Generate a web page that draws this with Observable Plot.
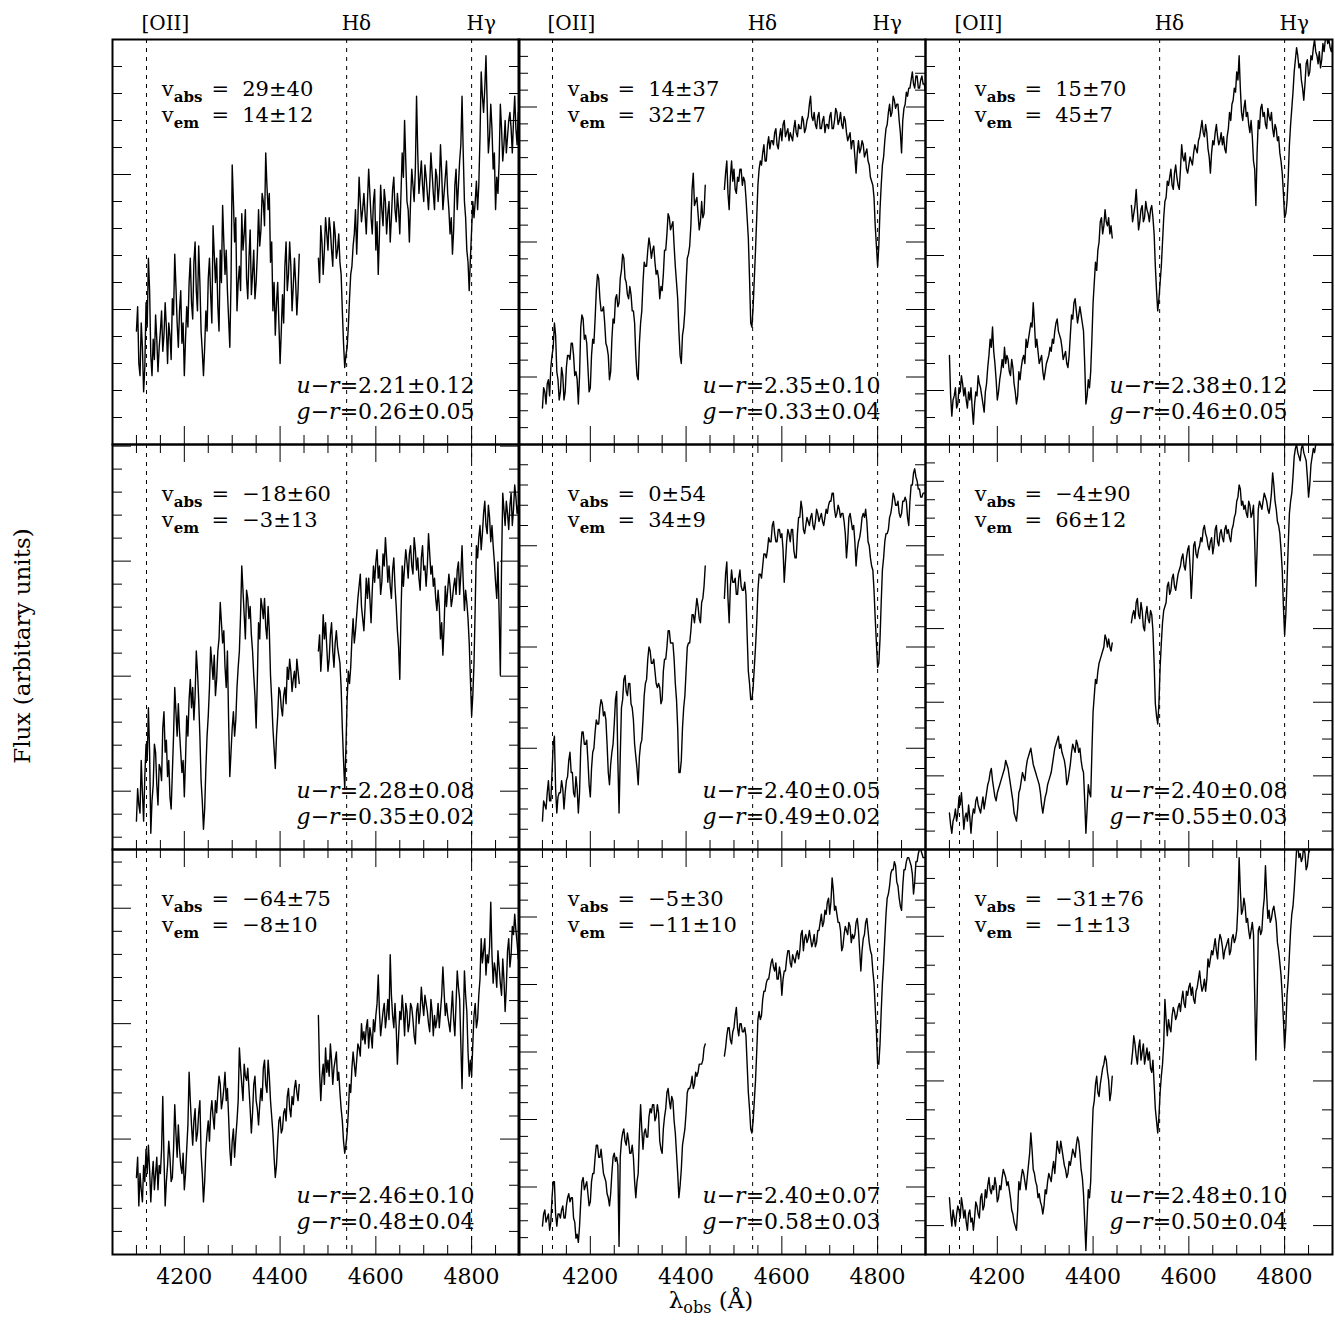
<!DOCTYPE html>
<html><head><meta charset="utf-8">
<script src="https://cdn.jsdelivr.net/npm/d3@7"></script>
<script src="https://cdn.jsdelivr.net/npm/@observablehq/plot@0.6"></script>
<style>
html,body{margin:0;padding:0;background:#fff;}
#fig{position:relative;width:1335px;height:1321px;background:#fff;font-family:"DejaVu Serif",serif;color:#000;}
.panel{position:absolute;width:407px;height:405px;}
.panel svg{overflow:visible;}
#titles{position:absolute;left:0;top:0;pointer-events:none;}
</style></head>
<body><div id="fig"></div>
<script>
// ---------- data ----------
const waveBlue = [4100,4105,4110,4115,4120,4125,4130,4135,4140,4145,
4150,4155,4160,4165,4170,4175,4180,4185,4190,4195,
4200,4205,4210,4215,4220,4225,4230,4235,4240,4245,
4250,4255,4260,4265,4270,4275,4280,4285,4290,4295,
4300,4305,4310,4315,4320,4325,4330,4335,4340,4345,
4350,4355,4360,4365,4370,4375,4380,4385,4390,4395,
4400,4405,4410,4415,4420,4425,4430,4435,4440];
const waveRed = [4480,4485,4490,4495,4500,4505,4510,4515,4520,4525,
4530,4535,4540,4545,4550,4555,4560,4565,4570,4575,
4580,4585,4590,4595,4600,4605,4610,4615,4620,4625,
4630,4635,4640,4645,4650,4655,4660,4665,4670,4675,
4680,4685,4690,4695,4700,4705,4710,4715,4720,4725,
4730,4735,4740,4745,4750,4755,4760,4765,4770,4775,
4780,4785,4790,4795,4800,4805,4810,4815,4820,4825,
4830,4835,4840,4845,4850,4855,4860,4865,4870,4875,
4880,4885,4890,4895,4900];
// intermediate samples
const waveBlueMid = [4102.5,4107.5,4112.5,4117.5,4122.5,4127.5,4132.5,4137.5,4142.5,4147.5,
4152.5,4157.5,4162.5,4167.5,4172.5,4177.5,4182.5,4187.5,4192.5,4197.5,
4202.5,4207.5,4212.5,4217.5,4222.5,4227.5,4232.5,4237.5,4242.5,4247.5,
4252.5,4257.5,4262.5,4267.5,4272.5,4277.5,4282.5,4287.5,4292.5,4297.5,
4302.5,4307.5,4312.5,4317.5,4322.5,4327.5,4332.5,4337.5,4342.5,4347.5,
4352.5,4357.5,4362.5,4367.5,4372.5,4377.5,4382.5,4387.5,4392.5,4397.5,
4402.5,4407.5,4412.5,4417.5,4422.5,4427.5,4432.5,4437.5];
const waveRedMid = [4482.5,4487.5,4492.5,4497.5,4502.5,4507.5,4512.5,4517.5,4522.5,4527.5,
4532.5,4537.5,4542.5,4547.5,4552.5,4557.5,4562.5,4567.5,4572.5,4577.5,
4582.5,4587.5,4592.5,4597.5,4602.5,4607.5,4612.5,4617.5,4622.5,4627.5,
4632.5,4637.5,4642.5,4647.5,4652.5,4657.5,4662.5,4667.5,4672.5,4677.5,
4682.5,4687.5,4692.5,4697.5,4702.5,4707.5,4712.5,4717.5,4722.5,4727.5,
4732.5,4737.5,4742.5,4747.5,4752.5,4757.5,4762.5,4767.5,4772.5,4777.5,
4782.5,4787.5,4792.5,4797.5,4802.5,4807.5,4812.5,4817.5,4822.5,4827.5,
4832.5,4837.5,4842.5,4847.5,4852.5,4857.5,4862.5,4867.5,4872.5,4877.5,
4882.5,4887.5,4892.5,4897.5];

// flux in arbitrary units (0 = panel floor, 100 = panel ceiling)
const blue1 = [28,20,30,13,35,46,22,26,32,18, 28,23,35,20,27,36,47,30,33,25, 17,34,40,35,45,38,49,28,17,33, 41,37,54,40,34,48,59,42,38,24, 69,50,33,44,57,52,41,46,37,48, 40,58,53,60,72,58,45,33,27,40, 20,37,44,38,50,33,46,32,47];
const blue1Mid = [34,17,24,19,29,38,17,21,26,24, 33,27,29,30,21,32,39,24,38,30, 26,29,46,31,50,33,40,23,24,28, 46,30,47,46,28,40,50,48,31,40, 60,56,40,38,48,58,36,53,42,36, 47,49,62,54,64,62,50,40,35,30, 28,30,50,42,44,39,40,38];
const red1 = [46,54,42,56,48,53,44,52,48,45, 33,19,24,36,44,52,47,66,55,62, 52,68,56,60,48,42,64,54,60,57, 50,63,58,62,52,72,80,60,50,68, 60,86,62,70,60,66,58,72,62,68, 60,74,58,66,62,52,47,64,58,70, 86,60,48,38,53,56,65,64,92,82, 96,72,84,68,58,62,84,70,80,76, 82,72,86,74,80];
const red1Mid = [40,50,48,52,56,48,55,46,52,42, 25,22,29,42,49,58,56,60,58,57, 60,62,52,63,55,52,58,63,52,60, 56,66,55,58,62,66,70,58,60,64, 68,72,66,64,69,62,64,67,58,66, 64,67,62,70,58,56,53,68,64,74, 72,56,45,46,60,60,58,76,86,88, 84,76,78,72,66,70,78,74,72,80, 78,80,78,82];

const blue2 = [9,13,15,12,22,30,18,11,19,11, 19,22,25,22,18,10,29,31,27,19, 14,26,31,42,36,33,30,24,16,26, 30,37,35,43,46,40,36,37,33,22, 16,30,40,44,48,49,48,45,43,36, 38,48,52,56,54,49,40,28,20,29, 40,47,54,67,60,57,55,56,64];
const blue2Mid = [14,10,16,19,24,27,16,13,17,13, 22,21,25,17,16,17,32,26,25,13, 22,25,38,41,33,34,25,22,18,31, 36,34,41,47,41,37,39,33,30,17, 25,33,45,44,51,46,49,42,41,39, 42,48,57,53,55,44,36,22,27,33, 46,49,63,59,61,53,60,57];
const red2 = [63,70,58,70,68,62,65,68,66,61, 51,30,34,48,64,70,72,70,74,73, 75,77,74,76,75,80,77,75,76,78, 77,79,78,80,78,81,86,80,79,81, 78,80,77,79,81,78,80,82,80,79, 81,77,76,73,75,67,75,73,74,72, 70,66,64,54,44,58,69,75,79,84, 82,85,84,80,72,83,87,88,90,89, 91,88,90,89,87];
const red2Mid = [67,62,66,65,63,66,68,64,65,56, 41,29,41,56,68,69,74,70,76,75, 74,78,73,78,79,76,78,77,75,80, 76,78,81,77,80,84,81,82,78,82, 78,81,79,78,82,78,83,79,82,78, 80,75,77,75,71,72,72,75,71,73, 69,65,61,49,49,64,71,78,82,81, 86,83,84,77,80,84,86,88,92,88, 91,88,91,89];

const blue3 = [22,7,12,9,14,17,12,11,13,14, 5,13,17,14,10,13,19,26,29,20, 11,16,21,24,22,18,21,15,10,18, 19,22,26,26,30,35,24,23,21,18, 18,21,24,26,28,31,27,24,22,20, 22,32,35,33,32,32,28,10,16,18, 35,45,48,55,52,58,54,52,51];
const blue3Mid = [12,11,14,10,13,15,14,9,11,9, 10,12,15,12,8,15,22,24,23,16, 13,18,19,20,21,17,19,13,12,16, 21,20,24,28,29,30,26,20,22,16, 20,22,23,25,30,28,26,21,23,19, 27,31,36,30,34,30,20,12,14,26, 40,43,50,56,54,55,56,54];
const red3 = [59,57,63,53,58,55,60,57,58,56, 44,33,40,50,60,65,66,64,67,66, 63,74,70,68,69,70,72,73,75,78, 77,79,73,67,75,77,76,75,74,73, 76,82,84,88,92,96,82,83,81,79, 80,70,59,80,83,81,79,83,80,78, 79,75,72,67,56,60,74,83,92,98, 93,90,85,94,91,96,98,97,94,93, 99,100,99,98,99];
const red3Mid = [55,59,58,55,59,56,58,55,59,52, 38,36,44,56,61,64,68,63,69,64, 68,71,72,67,71,69,74,72,76,80, 76,77,71,72,74,79,74,77,76,72, 78,80,85,87,90,88,80,85,82,77, 76,68,72,78,84,82,78,81,82,76, 78,76,70,62,57,66,79,87,95,96, 94,88,89,95,92,95,100,96,97,95, 97,101,100,97];

const blue4 = [7,11,22,7,26,35,4,16,24,11, 20,30,24,18,13,19,40,28,29,19, 13,33,37,35,32,49,37,17,5,20, 33,50,42,38,49,61,51,45,49,18, 30,28,40,49,70,58,64,57,53,43, 30,56,62,57,55,60,43,30,20,33, 39,33,40,45,47,39,44,47,41];
const blue4Mid = [15,9,14,18,22,24,12,26,16,21, 17,34,27,22,10,28,34,36,24,22, 22,28,42,40,38,44,28,12,10,28, 40,46,48,42,52,56,54,40,32,24, 34,32,45,58,64,52,62,60,49,38, 42,52,60,62,52,54,37,25,28,40, 35,38,36,42,44,42,40,44];
const red4 = [49,44,58,56,44,53,49,51,50,46, 30,15,37,41,52,51,58,65,60,54, 67,67,56,70,71,67,63,73,77,66, 65,69,65,54,42,70,70,71,73,70, 77,69,67,72,69,65,78,68,65,62, 64,52,48,65,64,65,62,67,69,63, 75,59,61,51,33,46,75,77,74,83, 80,85,76,75,66,71,43,88,80,83, 85,80,90,83,79];
const red4Mid = [53,49,52,50,47,56,45,54,48,40, 22,25,44,45,57,54,62,68,57,60, 62,62,64,66,74,70,66,70,72,70, 62,72,60,50,58,65,74,67,75,68, 74,72,64,75,70,70,73,70,67,59, 60,56,55,60,68,60,65,63,71,68, 66,64,57,42,38,60,72,80,78,86, 78,82,80,71,62,58,70,84,86,79, 88,84,87,85];

const blue5 = [7,11,14,12,19,28,9,14,17,10, 17,22,19,14,18,9,25,29,26,22, 13,24,29,31,35,36,34,26,16,24, 31,39,9,35,42,39,41,36,32,23, 16,26,32,41,47,49,46,44,40,40, 37,47,50,54,51,47,37,19,22,35, 44,51,54,58,59,60,56,62,70];
const blue5Mid = [12,10,17,12,26,15,13,14,15,14, 18,24,19,13,15,14,29,26,27,16, 20,25,32,31,37,33,32,19,21,26, 37,22,23,37,43,38,41,35,26,20, 23,27,38,42,50,46,47,41,41,36, 44,47,54,51,51,41,30,19,30,38, 50,51,58,56,62,57,61,65];
const red5 = [62,71,56,69,66,63,67,65,64,63, 44,37,40,50,64,68,70,73,74,76, 80,78,76,79,78,66,76,78,79,74, 72,82,86,79,80,81,82,80,81,83, 82,81,82,83,86,88,84,83,84,83, 81,72,82,81,80,70,76,79,83,84, 76,72,69,57,45,52,69,76,78,82, 85,87,85,83,83,86,86,80,90,93, 92,89,87,88,88];
const red5Mid = [68,62,65,66,67,63,69,64,66,53, 41,37,45,56,68,67,73,72,77,76, 81,76,79,77,74,71,79,76,79,72, 78,82,84,78,82,80,83,79,84,81, 83,80,84,85,86,88,82,85,82,83, 78,76,83,79,76,74,77,82,82,81, 75,70,64,51,46,61,72,78,79,83, 88,85,86,82,86,87,82,86,90,94, 91,89,87,88];

const blue6 = [9,4,8,7,13,14,5,9,11,4, 10,12,11,9,13,12,16,19,17,13, 14,16,18,20,21,18,14,9,7,14, 17,18,20,23,25,21,19,17,14,9, 13,16,18,21,25,27,25,24,22,16, 19,24,25,27,24,22,19,4,16,13, 34,42,44,47,49,53,50,50,51];
const blue6Mid = [6,7,10,9,11,10,8,7,8,8, 9,13,10,11,10,14,17,20,15,12, 15,17,19,22,20,16,12,8,10,15, 19,17,22,24,23,20,18,16,11,11, 14,17,19,23,26,28,26,23,20,17, 21,26,24,26,25,20,12,10,14,24, 38,41,46,48,50,52,52,49];
const red6 = [56,59,61,58,61,55,58,57,59,54, 36,31,45,56,60,65,63,67,65,66, 69,72,70,72,75,62,75,73,74,77, 79,78,75,76,73,79,76,78,77,79, 78,77,79,82,86,90,85,84,83,86, 82,85,65,84,85,86,87,84,85,93, 86,81,78,69,53,66,83,88,97,100, 97,99,98,96,87,95,99,100,102,101, 103,102,104,103,104];
const red6Mid = [58,57,62,57,59,54,60,56,58,46, 33,36,51,59,61,66,64,68,64,68, 70,73,69,74,70,68,76,72,75,76, 80,77,74,77,75,80,75,79,76,80, 79,76,80,83,87,89,86,85,82,85, 83,76,74,86,84,88,86,83,88,90, 84,80,74,60,58,75,86,92,99,98, 96,100,97,92,90,97,98,101,103,102, 104,103,105,102];

const blue7 = [19,12,16,22,26,27,13,23,20,16, 20,39,12,22,24,19,37,24,26,20, 16,26,45,32,33,28,35,25,13,26, 33,35,34,38,40,42,38,45,41,26, 28,24,33,51,42,47,43,41,30,42, 38,32,41,46,42,48,38,30,19,28, 34,31,36,39,36,39,41,40,42];
const blue7Mid = [24,20,13,18,20,21,19,16,24,22, 26,24,18,28,18,26,30,32,22,25, 20,32,38,27,36,30,38,20,18,30, 28,38,31,35,44,36,41,38,34,22, 31,29,38,46,38,44,46,36,35,44, 36,37,38,48,40,44,34,24,22,33, 30,35,33,41,34,37,43,38];
const red7 = [59,38,47,51,48,52,42,48,43,40, 33,25,30,42,46,47,48,51,57,55, 56,51,54,58,59,69,54,60,56,63, 74,59,62,47,60,64,54,60,57,61, 54,60,57,66,59,62,57,63,54,56, 62,60,71,59,59,55,65,54,70,63, 41,70,60,44,44,59,56,64,78,75, 69,72,87,67,70,75,67,73,60,75, 71,81,84,77,75];
const red7Mid = [45,44,42,45,44,48,46,50,45,36, 28,27,35,40,50,44,52,49,53,52, 58,56,51,55,62,60,57,62,59,58, 64,56,56,54,58,60,62,55,62,58, 52,62,60,62,64,60,55,60,59,58, 56,64,65,62,57,60,58,62,66,52, 56,64,50,48,52,62,58,68,72,78, 74,76,74,72,66,71,64,68,66,78, 74,79,80,73];

const blue8 = [7,11,9,6,14,18,7,10,11,9, 12,15,14,9,4,3,13,19,17,15, 13,20,24,27,24,23,19,15,12,20, 25,24,2,28,31,27,28,25,24,14, 20,37,26,31,29,36,37,33,37,28, 25,34,40,38,39,33,25,14,21,29, 35,41,42,41,45,45,47,48,52];
const blue8Mid = [10,8,10,8,18,10,10,9,12,9, 14,13,14,8,5,7,18,16,18,12, 18,20,27,24,26,20,18,14,15,24, 23,22,24,30,28,30,25,27,18,18, 30,31,30,29,34,35,37,34,35,26, 31,36,41,36,38,30,20,17,27,31, 40,41,44,42,44,47,47,51];
const red8 = [49,54,56,52,56,61,54,57,55,54, 40,31,33,43,58,58,63,65,68,70, 73,70,68,71,64,70,73,75,71,73, 74,73,79,75,79,78,78,77,76,80, 82,81,85,87,84,93,85,84,82,75, 79,80,82,77,78,82,80,70,78,82, 80,75,70,61,47,52,67,78,88,91, 95,97,92,88,85,95,97,98,96,89, 97,99,100,98,98];
const red8Mid = [51,56,53,55,59,56,57,55,56,47, 36,30,38,50,60,59,65,67,68,72, 71,72,68,69,68,70,75,72,74,72, 75,75,80,78,77,80,76,79,77,80, 84,82,84,88,87,90,86,82,80,76, 81,79,81,79,79,83,75,75,79,83, 77,74,67,55,47,60,72,84,89,94, 95,96,91,86,91,95,98,97,94,92, 97,100,99,98];

const blue9 = [14,7,9,10,11,14,9,8,10,8, 6,13,10,14,11,16,17,16,17,19, 13,17,19,20,17,16,11,8,6,18, 19,20,16,22,30,21,18,14,13,10, 16,18,19,21,20,28,25,26,22,19, 23,24,25,27,28,21,15,1,16,18, 36,42,40,42,46,49,45,38,44];
const blue9Mid = [10,11,7,12,9,12,11,6,11,9, 9,12,9,15,12,14,19,15,16,17, 14,16,21,19,18,14,10,7,11,16, 21,18,19,25,26,20,17,15,12,12, 15,20,18,23,24,26,28,24,21,20, 22,26,24,29,25,19,8,9,14,28, 38,44,39,44,47,48,43,40];
const red9 = [47,54,49,51,48,52,49,48,46,48, 36,30,40,47,63,54,56,59,60,59, 62,63,62,65,66,64,63,65,68,67, 66,65,73,73,74,78,73,79,76,75, 77,74,78,77,80,98,84,88,82,80, 80,79,48,80,79,85,96,83,82,85, 84,77,72,64,51,64,74,84,90,100, 98,97,101,95,99,103,102,104,103,105, 104,103,105,104,106];
const red9Mid = [50,52,47,53,50,47,51,50,45,42, 33,34,44,52,58,58,55,61,58,61, 60,65,61,64,67,66,62,66,70,65, 68,68,71,75,76,75,77,78,73,76, 78,75,79,78,86,90,85,86,83,78, 82,64,62,81,80,88,89,85,83,86, 82,75,69,58,56,68,80,86,95,101, 99,98,99,96,100,104,103,105,104,106, 105,104,106,105];

const blueFlux = [blue1, blue2, blue3, blue4, blue5, blue6, blue7, blue8, blue9];
const redFlux = [red1, red2, red3, red4, red5, red6, red7, red8, red9];
const blueFluxMid = [blue1Mid, blue2Mid, blue3Mid, blue4Mid, blue5Mid, blue6Mid, blue7Mid, blue8Mid, blue9Mid];
const redFluxMid = [red1Mid, red2Mid, red3Mid, red4Mid, red5Mid, red6Mid, red7Mid, red8Mid, red9Mid];

const vAbs = ["29±40", "14±37", "15±70", "−18±60", "0±54", "−4±90", "−64±75", "−5±30", "−31±76"];
const vEm = ["14±12", "32±7", "45±7", "−3±13", "34±9", "66±12", "−8±10", "−11±10", "−1±13"];
const uR = ["2.21±0.12", "2.35±0.10", "2.38±0.12", "2.28±0.08", "2.40±0.05", "2.40±0.08", "2.46±0.10", "2.40±0.07", "2.48±0.10"];
const gR = ["0.26±0.05", "0.33±0.04", "0.46±0.05", "0.35±0.02", "0.49±0.02", "0.55±0.03", "0.48±0.04", "0.58±0.03", "0.50±0.04"];

const lineNames = ["[OII]", "Hδ", "Hγ"];
const lineWaves = [4121, 4539, 4800];
const xMajorTicks = [4200, 4400, 4600, 4800];
const xMinorTicks = [4100, 4150, 4250, 4300, 4350, 4450, 4500, 4550, 4650, 4700, 4750, 4850];

// y-axis tick layout for each panel (arbitrary flux units)
const yTickStep = [100/15, 100/24, 100/15, 5.68, 5, 100/22, 5.7, 100/24, 100/14];
const yTickOrigin = [0, 0, 13.33, 14.4, 0, 0, 0, 0, 7.14];
const yTickEvery = [5, 4, 5, 5, 5, 4, 5, 4, 5];

// ---------- layout ----------
const L0 = 111.7, T0 = 39.3, PW = 406.67, PH = 404.67;
const W = 407, H = 405;
const FONT = "DejaVu Serif";
const textX = {v: 4153, eq: 4275, val: 4321, colour: 4806};

function yTicks(p) {
  const step = yTickStep[p], o = yTickOrigin[p], ev = yTickEvery[p];
  const minor = [], major = [];
  for (let k = Math.ceil(-o / step - 1e-6); o + k * step <= 100.3; k++) {
    const v = o + k * step;
    if (v < 0.3 || v > 99.7) continue;
    (((k % ev) + ev) % ev === 0 ? major : minor).push(v);
  }
  return {minor, major};
}

function richify(root) {
  d3.select(root).selectAll("text").each(function () {
    const s = this.textContent;
    if (!/\*|_\{/.test(s)) return;
    const parts = s.split(/(\*[^*]+\*|_\{[^}]+\})/).filter(Boolean);
    const t = d3.select(this);
    t.text(null);
    let shift = 0;
    for (const part of parts) {
      const ts = t.append("tspan");
      if (part.startsWith("_{")) {
        ts.attr("font-size", "15px").attr("font-weight", "bold").attr("dy", 6).text(part.slice(2, -1));
        shift = 6;
        continue;
      }
      if (part[0] === "*") ts.attr("font-style", "italic").text(part.slice(1, -1));
      else ts.text(part);
      if (shift) { ts.attr("dy", -shift); shift = 0; }
    }
  });
}

function segment(waves, flux, wavesMid, fluxMid, seg) {
  const pts = waves.map((w, i) => ({w, f: flux[i], seg}));
  if (fluxMid) wavesMid.forEach((w, i) => pts.push({w, f: fluxMid[i], seg}));
  return pts.sort((a, b) => a.w - b.w);
}

const fig = document.getElementById("fig");

for (let p = 0; p < 9; p++) {
  const r = Math.floor(p / 3), c = p % 3;
  const spec = [
    ...segment(waveBlue, blueFlux[p], waveBlueMid, blueFluxMid[p], "blue"),
    ...segment(waveRed, redFlux[p], waveRedMid, redFluxMid[p], "red")
  ];
  const yt = yTicks(p);
  const top = {frameAnchor: "top", lineAnchor: "bottom", fontSize: 21};
  const bottom = {frameAnchor: "bottom", lineAnchor: "bottom", fontSize: 22, textAnchor: "end", letterSpacing: 0.6};
  const marks = [
    Plot.ruleX(lineWaves, {x: d => d, stroke: "black", strokeWidth: 1, strokeDasharray: "4,5"}),
    Plot.line(spec, {x: "w", y: "f", z: "seg", stroke: "black", strokeWidth: 1.4, clip: true}),
    Plot.tickY(yt.minor, {y: d => d, insetRight: W - 10, stroke: "black"}),
    Plot.tickY(yt.major, {y: d => d, insetRight: W - 19, stroke: "black"}),
    Plot.tickY(yt.minor, {y: d => d, insetLeft: W - 10, stroke: "black"}),
    Plot.tickY(yt.major, {y: d => d, insetLeft: W - 19, stroke: "black"}),
    Plot.tickX(xMinorTicks, {x: d => d, insetTop: H - 9, stroke: "black"}),
    Plot.tickX(xMajorTicks, {x: d => d, insetTop: H - 18, stroke: "black"}),
    Plot.frame({stroke: "black", strokeWidth: 2}),
    // annotations
    Plot.text(["v_{abs}"], {...top, x: () => textX.v, text: d => d, dy: 56, textAnchor: "start"}),
    Plot.text(["v_{em}"], {...top, x: () => textX.v, text: d => d, dy: 82, textAnchor: "start"}),
    Plot.text(["="], {...top, x: () => textX.eq, text: d => d, dy: 56, textAnchor: "middle"}),
    Plot.text(["="], {...top, x: () => textX.eq, text: d => d, dy: 82, textAnchor: "middle"}),
    Plot.text([vAbs[p]], {...top, x: () => textX.val, text: d => d, dy: 56, textAnchor: "start"}),
    Plot.text([vEm[p]], {...top, x: () => textX.val, text: d => d, dy: 82, textAnchor: "start"}),
    Plot.text([uR[p]], {...bottom, x: () => textX.colour, text: d => "*u*−*r*=" + d, dy: -52}),
    Plot.text([gR[p]], {...bottom, x: () => textX.colour, text: d => "*g*−*r*=" + d, dy: -26})
  ];
  if (r > 0) {
    marks.push(
      Plot.tickX(xMinorTicks, {x: d => d, insetBottom: H - 9, stroke: "black"}),
      Plot.tickX(xMajorTicks, {x: d => d, insetBottom: H - 18, stroke: "black"})
    );
  }
  if (r === 0) {
    marks.push(Plot.text(lineWaves, {x: d => d, text: (d, i) => lineNames[i], frameAnchor: "top", dy: -10, dx: -5, lineAnchor: "bottom", textAnchor: "start", fontSize: 20}));
  }
  if (r === 2) {
    marks.push(Plot.text(xMajorTicks, {x: d => d, text: d => String(d), frameAnchor: "bottom", dy: 29, lineAnchor: "bottom", textAnchor: "middle", fontSize: 22}));
  }
  const svg = Plot.plot({
    width: W, height: H,
    marginTop: 0, marginRight: 0, marginBottom: 0, marginLeft: 0,
    x: {domain: [4050, 4900], axis: null},
    y: {domain: [0, 100], axis: null},
    style: {overflow: "visible", background: "transparent", fontFamily: FONT, fontSize: "21px", color: "black"},
    marks
  });
  richify(svg);
  const div = document.createElement("div");
  div.className = "panel";
  div.style.left = (L0 + c * PW) + "px";
  div.style.top = (T0 + r * PH) + "px";
  div.appendChild(svg);
  fig.appendChild(div);
}

// axis titles
const titles = d3.select(fig).append("svg").attr("id", "titles")
  .attr("width", 1335).attr("height", 1321)
  .style("font-family", FONT).style("font-size", "23px");
const xt = titles.append("text").attr("x", 711).attr("y", 1308).attr("text-anchor", "middle").attr("fill", "black");
xt.append("tspan").text("λ");
xt.append("tspan").attr("font-size", "16px").attr("dy", 5).text("obs");
xt.append("tspan").attr("dy", -5).text(" (Å)");
titles.append("text").attr("transform", "translate(30,646) rotate(-90)").attr("text-anchor", "middle").attr("fill", "black").text("Flux (arbitary units)");
</script></body></html>
